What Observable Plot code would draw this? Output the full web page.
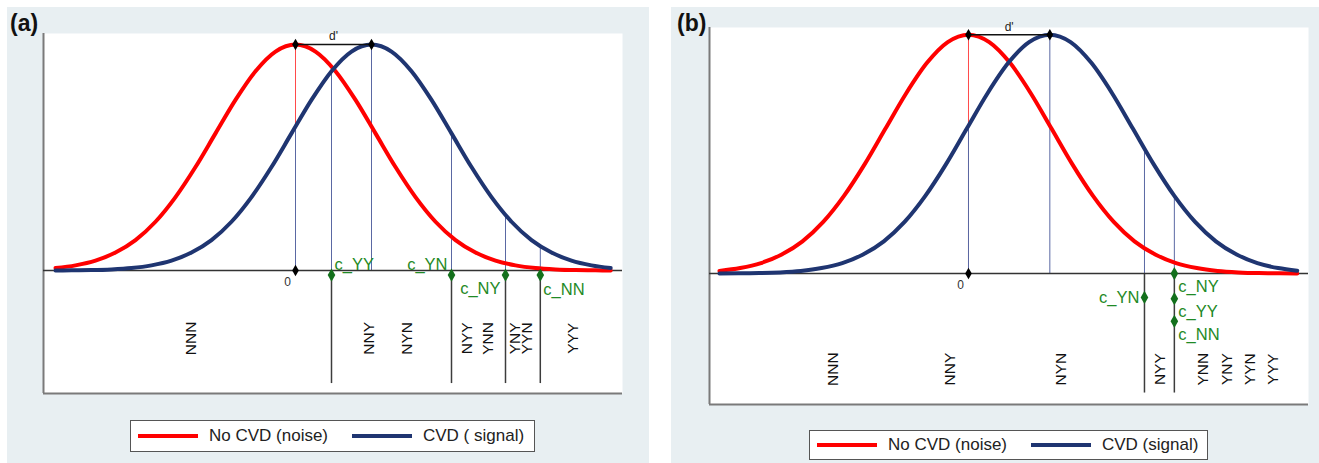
<!DOCTYPE html>
<html><head><meta charset="utf-8">
<script src="https://cdn.jsdelivr.net/npm/d3@7"></script>
<script src="https://cdn.jsdelivr.net/npm/@observablehq/plot@0.6"></script>
<style>
body{margin:0;background:#fff;font-family:"Liberation Sans",Arial,sans-serif;}
#wrap{position:relative;width:1319px;height:463px;overflow:hidden;}
.panel{position:absolute;background:#e8eff2;}
.panel svg{position:absolute;left:0;top:0;}
.tag{position:absolute;font-weight:bold;font-size:23px;line-height:26px;color:#111;}
.legend{position:absolute;background:#fff;border:1px solid #555;box-sizing:border-box;}
.legend .sw{position:absolute;height:4px;width:60px;}
.legend .lb{position:absolute;top:0;font-size:17px;color:#222;white-space:nowrap;}
</style></head><body><div id="wrap"></div>
<script>
// ---------- Panel (a) data ----------
const aNoiseX  = [-3,-2.75,-2.5,-2.25,-2,-1.75,-1.5,-1.25,-1,-0.75,-0.5,-0.25,0,0.25,0.5,0.75,1,1.25,1.5,1.75,2,2.25,2.5,2.75,3,3.25,3.5,3.75,3.94];
const aNoiseH  = [0.011,0.023,0.044,0.080,0.135,0.216,0.325,0.458,0.607,0.755,0.882,0.969,1,0.969,0.882,0.755,0.607,0.458,0.325,0.216,0.135,0.080,0.044,0.023,0.011,0.005,0.002,0.001,0];
const aSignalX = [-3,-2.8,-2.55,-2.3,-2.05,-1.8,-1.55,-1.3,-1.05,-0.8,-0.55,-0.3,-0.05,0.2,0.45,0.7,0.95,1.2,1.45,1.7,1.95,2.2,2.45,2.7,2.95,3.2,3.45,3.7,3.94];
const aSignalH = [0,0.001,0.002,0.005,0.011,0.023,0.044,0.080,0.135,0.216,0.325,0.458,0.607,0.755,0.882,0.969,1,0.969,0.882,0.755,0.607,0.458,0.325,0.216,0.135,0.080,0.044,0.023,0.011];
const aDPrime = 0.95;
const aSignalAtZero = 0.637;
const aCutNames = ["c_YY","c_YN","c_NY","c_NN"];
const aCutX = [0.45,1.95,2.625,3.06];
const aCutMarkY = [-0.02,-0.02,-0.02,-0.02];
const aCutLineX = [0.45,1.95,2.625,3.06];
const aCutLineH = [0.882,0.607,0.246,0.108];
const aCats = ["NNN","NNY","NYN","NYY","YNN","YNY","YYN","YYY"];
const aCatX = [-1.3,0.925,1.39,2.14,2.41,2.74,2.89,3.475];
const aCatY = -0.30;
const aLegend = ["No CVD (noise)","CVD ( signal)"];

// ---------- Panel (b) data ----------
const bNoiseX  = [-3,-2.75,-2.5,-2.25,-2,-1.75,-1.5,-1.25,-1,-0.75,-0.5,-0.25,0,0.25,0.5,0.75,1,1.25,1.5,1.75,2,2.25,2.5,2.75,3,3.25,3.5,3.75,3.96];
const bNoiseH  = [0.011,0.023,0.044,0.080,0.135,0.216,0.325,0.458,0.607,0.755,0.882,0.969,1,0.969,0.882,0.755,0.607,0.458,0.325,0.216,0.135,0.080,0.044,0.023,0.011,0.005,0.002,0.001,0];
const bSignalX = [-3,-2.77,-2.52,-2.27,-2.02,-1.77,-1.52,-1.27,-1.02,-0.77,-0.52,-0.27,-0.02,0.23,0.48,0.73,0.98,1.23,1.48,1.73,1.98,2.23,2.48,2.73,2.98,3.23,3.48,3.73,3.96];
const bSignalH = [0,0.001,0.002,0.005,0.011,0.023,0.044,0.080,0.135,0.216,0.325,0.458,0.607,0.755,0.882,0.969,1,0.969,0.882,0.755,0.607,0.458,0.325,0.216,0.135,0.080,0.044,0.023,0.012];
const bDPrime = 0.98;
const bSignalAtZero = 0.619;
const bCutNames = ["c_NY","c_YN","c_YY","c_NN"];
const bCutX = [2.48,2.12,2.48,2.48];
const bCutMarkY = [0,-0.10,-0.105,-0.20];
const bCutLineX = [2.12,2.48];
const bCutLineH = [0.522,0.325];
const bCats = ["NNN","NNY","NYN","NYY","YNN","YNY","YYN","YYY"];
const bCatX = [-1.63,-0.22,1.12,2.31,2.82,3.11,3.39,3.67];
const bCatY = -0.40;
const bLegend = ["No CVD (noise)","CVD (signal)"];

const lowerLineEnd = -0.5;

// ---------- styles / layout ----------
const RED = "#ff0000", BLUE = "#1f3571", GREEN = "#1f8a26";
const labelStyle = {
  c_YY_a: {dx: 3, dy: -10, textAnchor: "start"},
  c_YN_a: {dx: -4, dy: -10, textAnchor: "end"},
  c_NY_a: {dx: -5, dy: 14, textAnchor: "end"},
  c_NN_a: {dx: 3, dy: 15, textAnchor: "start"},
  c_NY_b: {dx: 4, dy: 13, textAnchor: "start"},
  c_YN_b: {dx: -5, dy: 0, textAnchor: "end"},
  c_YY_b: {dx: 4, dy: 13, textAnchor: "start"},
  c_NN_b: {dx: 4, dy: 13, textAnchor: "start"}
};

function makePlot(d, key, layout) {
  const noise = d.noiseX.map((x, i) => ({x, h: d.noiseH[i]}));
  const signal = d.signalX.map((x, i) => ({x, h: d.signalH[i]}));
  const redThin = [{x: 0, h: 1}];
  const blueThin = [{x: 0, h: d.signalAtZero}, {x: d.dprime, h: 1}]
    .concat(d.cutLineX.map((x, i) => ({x, h: d.cutLineH[i]})));
  const cuts = d.cutNames.map((n, i) => ({n, x: d.cutX[i], y: d.cutMarkY[i]}));
  const cats = d.cats.map((c, i) => ({c, x: d.catX[i], y: d.catY}));
  const black = [{x: 0, y: 0}, {x: 0, y: 1}, {x: d.dprime, y: 1}];
  const cutLabelMarks = cuts.map(c => {
    const s = labelStyle[c.n + "_" + key];
    return Plot.text([c], {x: "x", y: "y", text: "n", fill: GREEN, fontSize: 16.5, dx: s.dx, dy: s.dy, textAnchor: s.textAnchor});
  });
  return Plot.plot({
    width: layout.width, height: layout.height,
    marginLeft: layout.ml, marginRight: layout.mr, marginTop: layout.mt, marginBottom: layout.mb,
    x: {domain: d.xDomain, axis: null},
    y: {domain: d.yDomain, axis: null},
    style: {background: "transparent", fontFamily: "'Liberation Sans', Arial, sans-serif", overflow: "visible"},
    marks: [
      Plot.frame({fill: "white", stroke: "none"}),
      Plot.ruleX([d.xDomain[0]], {stroke: "#7a7a7a", strokeWidth: 2}),
      Plot.ruleY([d.yDomain[0]], {stroke: "#7a7a7a", strokeWidth: 2}),
      Plot.ruleX(redThin, {x: "x", y1: 0, y2: "h", stroke: "#ff4a4a", strokeWidth: 1}),
      Plot.ruleX(blueThin, {x: "x", y1: 0, y2: "h", stroke: "#5a68a3", strokeWidth: 1}),
      Plot.ruleX(d.cutLineX, {y1: 0, y2: lowerLineEnd, stroke: "#3c3c3c", strokeWidth: 1.5}),
      Plot.ruleY([0], {stroke: "#333", strokeWidth: 1.5}),
      Plot.line(noise, {x: "x", y: "h", stroke: RED, strokeWidth: 4, curve: "monotone-x"}),
      Plot.line(signal, {x: "x", y: "h", stroke: BLUE, strokeWidth: 4, curve: "monotone-x"}),
      Plot.ruleY([1], {x1: 0, x2: d.dprime, stroke: "#111", strokeWidth: 1.5}),
      Plot.text(["d'"], {x: d.dprime / 2, y: 1, dy: -8, fontSize: 12, fill: "#222"}),
      Plot.dot(black, {x: "x", y: "y", symbol: "diamond", fill: "#000", stroke: "none", r: 3.5}),
      Plot.text(["0"], {x: 0, y: 0, dx: -8, dy: 12, fontSize: 12, fill: "#333"}),
      Plot.dot(cuts, {x: "x", y: "y", symbol: "diamond", fill: "#13701c", stroke: "none", r: 4}),
      ...cutLabelMarks,
      Plot.text(cats, {x: "x", y: "y", text: "c", rotate: -90, fontSize: 15.5, fill: "#111"})
    ]
  });
}

function makePanel(p) {
  const div = document.createElement("div");
  div.className = "panel";
  Object.assign(div.style, {left: p.left + "px", top: p.top + "px", width: p.width + "px", height: p.height + "px"});
  div.appendChild(makePlot(p.data, p.key, p.plot));
  const tag = document.createElement("div");
  tag.className = "tag";
  tag.textContent = p.tag;
  Object.assign(tag.style, {left: p.tagX + "px", top: p.tagY + "px"});
  div.appendChild(tag);
  const lg = document.createElement("div");
  lg.className = "legend";
  Object.assign(lg.style, {left: p.lg.left + "px", top: p.lg.top + "px", width: p.lg.width + "px", height: p.lg.height + "px"});
  const inner = p.lg.height - 2;
  [[RED, p.data.legend[0], 7, 78], [BLUE, p.data.legend[1], 221, 292]].forEach(([col, txt, sx, tx]) => {
    const sw = document.createElement("div");
    sw.className = "sw";
    Object.assign(sw.style, {left: sx + "px", top: (inner / 2 - 2) + "px", background: col});
    const lb = document.createElement("div");
    lb.className = "lb";
    lb.textContent = txt;
    Object.assign(lb.style, {left: tx + "px", lineHeight: inner + "px"});
    lg.appendChild(sw); lg.appendChild(lb);
  });
  div.appendChild(lg);
  document.getElementById("wrap").appendChild(div);
}

makePanel({
  key: "a", tag: "(a)", tagX: 3, tagY: 3,
  left: 7, top: 7, width: 642, height: 456,
  plot: {width: 642, height: 400, ml: 36, mr: 27, mt: 26, mb: 14},
  lg: {left: 123, top: 413, width: 405, height: 32},
  data: {
    noiseX: aNoiseX, noiseH: aNoiseH, signalX: aSignalX, signalH: aSignalH,
    dprime: aDPrime, signalAtZero: aSignalAtZero,
    cutNames: aCutNames, cutX: aCutX, cutMarkY: aCutMarkY, cutLineX: aCutLineX, cutLineH: aCutLineH,
    cats: aCats, catX: aCatX, catY: aCatY, legend: aLegend,
    xDomain: [-3.15, 4.0875], yDomain: [-0.544, 1.049]
  }
});

makePanel({
  key: "b", tag: "(b)", tagX: 6, tagY: 3,
  left: 671, top: 7, width: 648, height: 456,
  plot: {width: 648, height: 410, ml: 38, mr: 11, mt: 20, mb: 13},
  lg: {left: 138, top: 423, width: 399, height: 30},
  data: {
    noiseX: bNoiseX, noiseH: bNoiseH, signalX: bSignalX, signalH: bSignalH,
    dprime: bDPrime, signalAtZero: bSignalAtZero,
    cutNames: bCutNames, cutX: bCutX, cutMarkY: bCutMarkY, cutLineX: bCutLineX, cutLineH: bCutLineH,
    cats: bCats, catX: bCatX, catY: bCatY, legend: bLegend,
    xDomain: [-3.12, 4.096], yDomain: [-0.548, 1.03]
  }
});
</script></body></html>
